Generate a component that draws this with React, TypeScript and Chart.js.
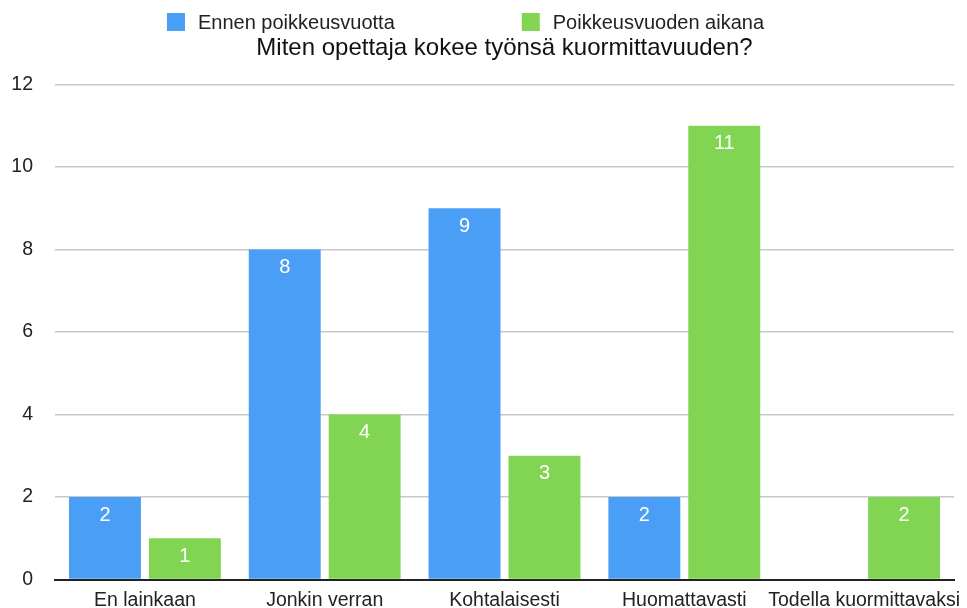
import React, { useEffect, useRef } from 'react';
import { Chart, registerables } from 'chart.js';

Chart.register(...registerables);

const categories = ['En lainkaan', 'Jonkin verran', 'Kohtalaisesti', 'Huomattavasti', 'Todella kuormittavaksi'];
const seriesNames = ['Ennen poikkeusvuotta', 'Poikkeusvuoden aikana'];
const beforeValues: (number | null)[] = [2, 8, 9, 2, null];
const duringValues: (number | null)[] = [1, 4, 3, 11, 2];
const yTicks = [0, 2, 4, 6, 8, 10, 12];
const titleText = 'Miten opettaja kokee työnsä kuormittavuuden?';

const BLUE = '#4a9ef5';
const GREEN = '#81d553';
const FONT = '"Liberation Sans", Arial, Helvetica, sans-serif';
const TEXT = '#222222';

const legendPlugin = {
  id: 'topLegend',
  afterDraw(chart: any) {
    const { ctx, chartArea } = chart;
    ctx.save();
    ctx.font = `20px ${FONT}`;
    const box = 18;
    const gapText = 13;
    const gapItems = 127;
    const items = chart.data.datasets.map((ds: any) => ({
      text: ds.label as string,
      color: ds.backgroundColor as string,
      w: box + gapText + ctx.measureText(ds.label).width,
    }));
    const total = items.reduce((s: number, it: any) => s + it.w, 0) + gapItems * (items.length - 1);
    let x = (chartArea.left + chartArea.right) / 2 - 39 - total / 2;
    const cy = 22;
    items.forEach((it: any) => {
      ctx.fillStyle = it.color;
      ctx.fillRect(x, cy - box / 2, box, box);
      ctx.fillStyle = TEXT;
      ctx.textAlign = 'left';
      ctx.textBaseline = 'alphabetic';
      ctx.fillText(it.text, x + box + gapText, 28.5);
      x += it.w + gapItems;
    });
    ctx.restore();
  },
};

const valueLabelPlugin = {
  id: 'valueLabels',
  afterDatasetsDraw(chart: any) {
    const { ctx } = chart;
    ctx.save();
    ctx.font = `20px ${FONT}`;
    ctx.fillStyle = '#ffffff';
    ctx.textAlign = 'center';
    ctx.textBaseline = 'middle';
    chart.data.datasets.forEach((ds: any, i: number) => {
      const meta = chart.getDatasetMeta(i);
      meta.data.forEach((el: any, j: number) => {
        const v = ds.data[j];
        if (v == null) return;
        ctx.fillText(String(v), el.x, el.y + 18);
      });
    });
    ctx.restore();
  },
};

export default function App() {
  const canvasRef = useRef<HTMLCanvasElement | null>(null);

  useEffect(() => {
    if (!canvasRef.current) return;
    const chart = new Chart(canvasRef.current, {
      type: 'bar',
      data: {
        labels: categories,
        datasets: [
          {
            label: seriesNames[0],
            data: beforeValues,
            backgroundColor: BLUE,
            borderWidth: 0,
            barPercentage: 0.9,
            categoryPercentage: 0.889,
          },
          {
            label: seriesNames[1],
            data: duringValues,
            backgroundColor: GREEN,
            borderWidth: 0,
            barPercentage: 0.9,
            categoryPercentage: 0.889,
          },
        ],
      },
      options: {
        animation: false,
        responsive: true,
        maintainAspectRatio: false,
        layout: { padding: { top: 0, right: 13, bottom: 0, left: 0 } },
        plugins: {
          legend: { display: false },
          tooltip: { enabled: false },
          title: {
            display: true,
            text: titleText,
            fullSize: false,
            color: '#111111',
            font: { family: FONT, size: 24, weight: 'normal' },
            padding: { top: 33.6, bottom: 22.1 },
          },
        },
        scales: {
          x: {
            grid: { drawOnChartArea: false, drawTicks: false },
            border: { display: true, color: '#222222', width: 2 },
            ticks: {
              font: { family: FONT, size: 19.5 },
              color: TEXT,
              padding: 9,
              maxRotation: 0,
              autoSkip: false,
            },
            afterFit(s: any) {
              s.height = 28.5;
              s.paddingLeft = 0;
              s.paddingRight = 0;
            },
          },
          y: {
            min: 0,
            max: 12,
            ticks: {
              stepSize: 2,
              font: { family: FONT, size: 19.5 },
              color: TEXT,
              padding: 22,
            },
            afterBuildTicks(s: any) {
              s.ticks = yTicks.map((v) => ({ value: v }));
            },
            grid: { color: '#c8c8c8', lineWidth: 1.5, drawTicks: false },
            border: { display: false },
            afterFit(s: any) {
              s.width = 55;
              s.paddingTop = 0;
              s.paddingBottom = 0;
            },
          },
        },
      },
      plugins: [legendPlugin, valueLabelPlugin],
    } as any);
    return () => chart.destroy();
  }, []);

  return (
    <div style={{ position: 'absolute', left: 0, top: 0, width: 967, height: 608, background: '#ffffff' }}>
      <canvas ref={canvasRef} />
    </div>
  );
}
